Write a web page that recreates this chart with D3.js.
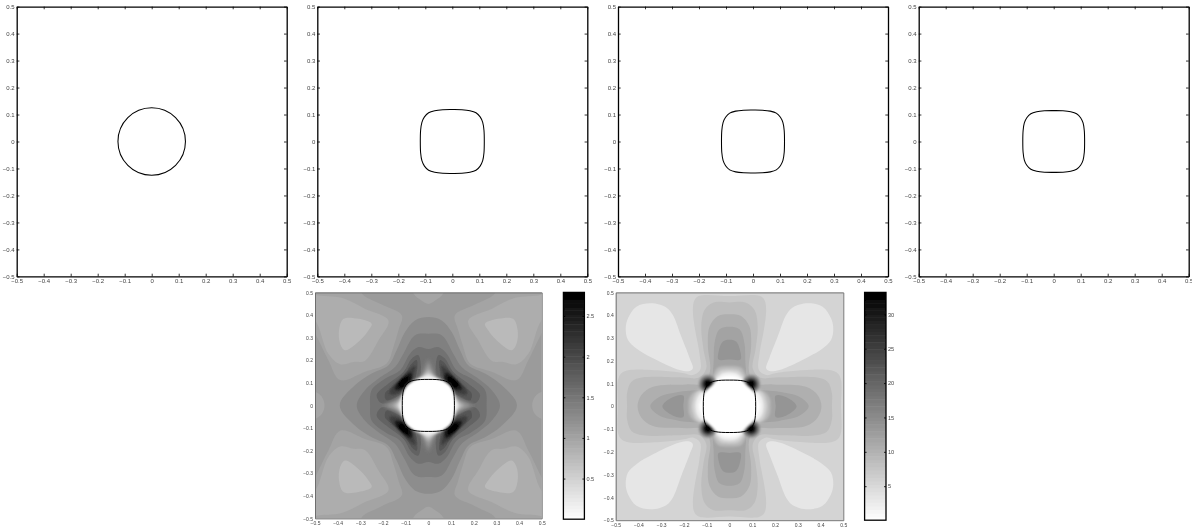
<!DOCTYPE html>
<html>
<head>
<meta charset="utf-8">
<script src="https://cdnjs.cloudflare.com/ajax/libs/d3/7.8.5/d3.min.js"></script>
<style>
  html, body { margin: 0; padding: 0; background: #fff; }
  svg { display: block; }
  text { font-family: "Liberation Sans", sans-serif; fill: #444; }
</style>
</head>
<body>
<div id="chart"></div>
<script>
const axisTicks = [-0.5, -0.4, -0.3, -0.2, -0.1, 0, 0.1, 0.2, 0.3, 0.4, 0.5];

// interface, first quadrant, unit half width; the rest comes from mirroring
const interfaceShape = [[0, 1], [0.3, 0.995], [0.55, 0.965], [0.74, 0.9], [0.87, 0.77], [0.95, 0.6], [0.99, 0.35], [1, 0]];
const circleRadius = 0.125;
const interfaceWidths = [0.1185, 0.1167, 0.1145];
const interfaceWidthLower = 0.115;

const barTicksA = [0.5, 1, 1.5, 2, 2.5];
const barRangeA = [0, 2.79];
const barTicksB = [5, 10, 15, 20, 25, 30];
const barRangeB = [0.05, 33.2];

// contour levels of the left field, light patches then dark levels
const lobeOuterA = [[0.294, 0.496], [0.206, 0.446], [0.117, 0.398], [0.132, 0.332], [0.154, 0.258], [0.184, 0.185], [0.279, 0.149], [0.389, 0.112], [0.441, 0.2], [0.499, 0.317], [0.558, 0.42], [0.558, 0.552], [0.294, 0.552]];
const lobeInnerA = [[0.176, 0.376], [0.279, 0.427], [0.382, 0.476], [0.499, 0.49], [0.56, 0.52], [0.56, 0.42], [0.499, 0.376], [0.441, 0.228], [0.389, 0.182], [0.33, 0.192], [0.279, 0.198], [0.22, 0.288]];
const patchA = [[0.25, 0.361], [0.308, 0.383], [0.374, 0.383], [0.394, 0.332], [0.389, 0.273], [0.367, 0.244], [0.301, 0.288], [0.264, 0.332]];
const topPatchA = [[0, 0.449], [0.03, 0.464], [0.066, 0.496], [0.07, 0.56], [0, 0.56]];
const sidePatchA = [[0.458, 0], [0.47, 0.038], [0.5, 0.06], [0.56, 0.07], [0.56, 0]];
const crossA1 = [[0, 0.391], [0.059, 0.376], [0.103, 0.325], [0.14, 0.244], [0.176, 0.178], [0.25, 0.141], [0.323, 0.09], [0.391, 0]];
const crossA2 = [[0, 0.317], [0.059, 0.31], [0.11, 0.229], [0.147, 0.17], [0.22, 0.119], [0.279, 0.068], [0.316, 0]];
const crossA3 = [[0, 0.25], [0.044, 0.258], [0.081, 0.229], [0.125, 0.156], [0.19, 0.119], [0.25, 0.068], [0.257, 0]];
const darkA1 = [[0.044, 0.222], [0.073, 0.207], [0.11, 0.148], [0.176, 0.097], [0.228, 0.046], [0.206, 0.009], [0.1, 0.04], [0.04, 0.1]];
const darkA2 = [[0.051, 0.2], [0.073, 0.185], [0.1, 0.141], [0.147, 0.09], [0.191, 0.053], [0.184, 0.023], [0.125, 0.046], [0.066, 0.097]];
const darkA3 = [[0.058, 0.175], [0.085, 0.158], [0.125, 0.115], [0.165, 0.075], [0.17, 0.05], [0.13, 0.055], [0.075, 0.105]];
const darkA4 = [[0.076, 0.145], [0.103, 0.132], [0.14, 0.095], [0.148, 0.07], [0.115, 0.07], [0.073, 0.108]];
const darkA5 = [[0.088, 0.128], [0.117, 0.117], [0.135, 0.09], [0.115, 0.078], [0.088, 0.1]];
const tipA1 = [[0, 0.205], [0.022, 0.165], [0.04, 0.125], [0.07, 0.09], [0.12, 0.045], [0.16, 0.022], [0.2, 0]];
const tipA2 = [[0, 0.185], [0.018, 0.15], [0.035, 0.122], [0.07, 0.09], [0.115, 0.045], [0.145, 0.02], [0.18, 0]];
const tipA3 = [[0, 0.16], [0.018, 0.14], [0.035, 0.12], [0.07, 0.09], [0.11, 0.045], [0.13, 0.02], [0.155, 0]];
const tipA4 = [[0, 0.14], [0.025, 0.125], [0.05, 0.112], [0.08, 0.09], [0.105, 0.06], [0.122, 0.025], [0.135, 0]];
const centreA = [[0, 0.124], [0.04, 0.118], [0.075, 0.102], [0.096, 0.086], [0.108, 0.06], [0.116, 0.03], [0.121, 0]];

// contour levels of the right field
const petalB = [[0.161, 0.167], [0.175, 0.211], [0.212, 0.306], [0.249, 0.401], [0.278, 0.434], [0.344, 0.452], [0.409, 0.437], [0.446, 0.386], [0.456, 0.342], [0.446, 0.291], [0.409, 0.254], [0.336, 0.211], [0.219, 0.159], [0.175, 0.155]];
const crossB1 = [[0, 0.484], [0.132, 0.485], [0.154, 0.466], [0.161, 0.423], [0.151, 0.335], [0.132, 0.232], [0.129, 0.159], [0.161, 0.137], [0.2, 0.145], [0.292, 0.156], [0.439, 0.159], [0.475, 0.145], [0.49, 0.115], [0.49, 0]];
const crossB2 = [[0, 0.456], [0.073, 0.455], [0.11, 0.423], [0.124, 0.349], [0.114, 0.247], [0.102, 0.167], [0.132, 0.127], [0.219, 0.127], [0.38, 0.127], [0.431, 0.108], [0.45, 0.057], [0.45, 0]];
const crossB3 = [[0, 0.404], [0.051, 0.396], [0.088, 0.349], [0.095, 0.262], [0.085, 0.159], [0.11, 0.101], [0.19, 0.096], [0.336, 0.086], [0.387, 0.05], [0.404, 0]];
const crossB4 = [[0, 0.349], [0.044, 0.338], [0.066, 0.276], [0.07, 0.189], [0.08, 0.115], [0.11, 0.079], [0.219, 0.064], [0.307, 0.042], [0.348, 0]];
const armB = [[0, 0.292], [0.029, 0.284], [0.048, 0.238], [0.048, 0.205], [0, 0.205]];
const sideB = [[0.203, 0], [0.203, 0.047], [0.25, 0.04], [0.295, 0]];
const glowB1 = [[0, 0.177], [0.05, 0.17], [0.07, 0.14], [0.08, 0.105], [0.11, 0.085], [0.16, 0.06], [0.178, 0.03], [0.18, 0]];
const glowB2 = [[0, 0.163], [0.04, 0.157], [0.06, 0.135], [0.075, 0.105], [0.105, 0.08], [0.145, 0.06], [0.16, 0.03], [0.165, 0]];
const glowB3 = [[0, 0.15], [0.03, 0.145], [0.055, 0.125], [0.075, 0.1], [0.1, 0.075], [0.13, 0.055], [0.145, 0.03], [0.15, 0]];
const spotB = [[0.095, 0.098, 0.04], [0.095, 0.098, 0.031], [0.095, 0.098, 0.023], [0.095, 0.098, 0.016]];
const centreB = [[0, 0.135], [0.04, 0.125], [0.07, 0.097], [0.082, 0.085], [0.097, 0.072], [0.12, 0.04], [0.135, 0]];

const width = 1192, height = 529;
const svg = d3.select("#chart").append("svg").attr("width", width).attr("height", height);

const defs = svg.append("defs");
const blur = (id, amount) => defs.append("filter").attr("id", id)
  .attr("x", "-5%").attr("y", "-5%").attr("width", "110%").attr("height", "110%")
  .append("feGaussianBlur").attr("stdDeviation", amount);
blur("soft", 0.7);
blur("mid", 1.1);
blur("smooth", 1.8);
blur("print", 0.3);

const root = svg.append("g").attr("filter", "url(#print)");

// mirror one quadrant into a closed ring
const mirrorBoth = pts => {
  const q4 = pts.slice().reverse().map(p => [p[0], -p[1]]);
  const q3 = pts.map(p => [-p[0], -p[1]]);
  const q2 = pts.slice().reverse().map(p => [-p[0], p[1]]);
  return [...pts, ...q4.slice(1), ...q3.slice(1), ...q2.slice(1, -1)];
};
const mirrorX = pts => [...pts, ...pts.slice(1, -1).reverse().map(p => [-p[0], p[1]])];
const mirrorY = pts => [...pts, ...pts.slice(1, -1).reverse().map(p => [p[0], -p[1]])];

const makePanel = (left, top, w, h, name, axisOpts) => {
  const x = d3.scaleLinear().domain([-0.5, 0.5]).range([0, w]);
  const y = d3.scaleLinear().domain([-0.5, 0.5]).range([h, 0]);
  const g = root.append("g").attr("transform", `translate(${left}, ${top})`);
  defs.append("clipPath").attr("id", "clip" + name)
    .append("rect").attr("width", w).attr("height", h);
  const area = g.append("g").attr("clip-path", `url(#clip${name})`);
  return { x, y, g, area, w, h, axisOpts };
};

const drawAxes = p => {
  const o = p.axisOpts;
  const fmt = d => d === 0 ? "0" : d3.format(".1f")(d);
  const style = sel => {
    sel.selectAll("path.domain").attr("stroke", o.frame).attr("stroke-width", o.frameWidth);
    sel.selectAll(".tick line").attr("stroke", o.frame).attr("stroke-width", 0.8);
    sel.selectAll("text").style("font-size", o.font + "px").attr("font-family", null).attr("fill", null);
  };
  p.g.append("g").attr("transform", `translate(0, ${p.h})`)
    .call(d3.axisBottom(p.x).tickValues(axisTicks).tickSize(-o.tick).tickSizeOuter(0).tickPadding(o.padding + 0.8).tickFormat(fmt)).call(style);
  p.g.append("g")
    .call(d3.axisLeft(p.y).tickValues(axisTicks).tickSize(-o.tick).tickSizeOuter(0).tickPadding(o.padding).tickFormat(fmt)).call(style);
  p.g.append("g")
    .call(d3.axisTop(p.x).tickValues(axisTicks).tickSize(-o.tick).tickSizeOuter(0).tickFormat("")).call(style);
  p.g.append("g").attr("transform", `translate(${p.w}, 0)`)
    .call(d3.axisRight(p.y).tickValues(axisTicks).tickSize(-o.tick).tickSizeOuter(0).tickFormat("")).call(style);
};

const drawInterface = (p, half, strokeWidth) => {
  const ring = mirrorBoth(interfaceShape.map(d => [d[0] * half, d[1] * half]));
  const line = d3.line().x(d => p.x(d[0])).y(d => p.y(d[1])).curve(d3.curveCatmullRomClosed.alpha(0.5));
  p.g.append("path").attr("d", line(ring)).attr("fill", "none").attr("stroke", "#000").attr("stroke-width", strokeWidth);
};

// kind says which axes the level touches
const fillLevel = (layer, p, pts, color, kind) => {
  const line = d3.line().x(d => p.x(d[0])).y(d => p.y(d[1])).curve(d3.curveCatmullRomClosed.alpha(0.5));
  const add = ring => layer.append("path").attr("d", line(ring)).attr("fill", color);
  if (kind === "both") add(mirrorBoth(pts));
  if (kind === "x") [1, -1].forEach(s => add(mirrorX(pts).map(d => [d[0], d[1] * s])));
  if (kind === "y") [1, -1].forEach(s => add(mirrorY(pts).map(d => [d[0] * s, d[1]])));
  if (kind === "corner") [[1, 1], [1, -1], [-1, 1], [-1, -1]].forEach(s => add(pts.map(d => [d[0] * s[0], d[1] * s[1]])));
};

const drawColorbar = (left, top, w, h, range, ticks) => {
  const v = d3.scaleLinear().domain(range).range([h, 0]);
  const grey = d3.scaleLinear().domain(range).range(["#ffffff", "#000000"]);
  const g = root.append("g").attr("transform", `translate(${left}, ${top})`);
  const bandCount = 64;
  const step = (range[1] - range[0]) / bandCount;
  const bands = d3.range(bandCount).map(i => range[0] + step * i);
  g.append("g").selectAll("rect").data(bands).join("rect")
    .attr("x", 0).attr("width", w)
    .attr("y", d => v(d + step)).attr("height", d => v(d) - v(d + step) + 0.5)
    .attr("fill", d => grey(d + step / 2));
  g.append("rect").attr("width", w).attr("height", h).attr("fill", "none").attr("stroke", "#000").attr("stroke-width", 1.3);
  const style = sel => {
    sel.select("path.domain").remove();
    sel.selectAll(".tick line").attr("stroke", "#000").attr("stroke-width", 0.8);
    sel.selectAll("text").style("font-size", "5.6px").attr("font-family", null).attr("fill", null);
  };
  g.append("g").attr("transform", `translate(${w}, 0)`)
    .call(d3.axisRight(v).tickValues(ticks).tickSize(-2).tickSizeOuter(0).tickPadding(2).tickFormat(d3.format("~g"))).call(style);
  g.append("g").call(d3.axisLeft(v).tickValues(ticks).tickSize(-2).tickSizeOuter(0).tickFormat("")).call(style);
};

const topOpts = { frame: "#000", frameWidth: 1.3, font: 6, tick: 2.7, padding: 2 };
const lowOpts = { frame: "#666", frameWidth: 0.9, font: 5, tick: 0, padding: 2 };

// top row
const panelLefts = [16.7, 317.3, 618, 918.7];
panelLefts.forEach((left, i) => {
  const p = makePanel(left, 6.6, 270, 269.8, "T" + i, topOpts);
  drawAxes(p);
  if (i === 0) {
    p.g.append("circle").attr("cx", p.x(0)).attr("cy", p.y(0))
      .attr("r", p.x(circleRadius) - p.x(0))
      .attr("fill", "none").attr("stroke", "#000").attr("stroke-width", 1.05);
  } else {
    drawInterface(p, interfaceWidths[i - 1], 1.05);
  }
});

// lower left field
const pa = makePanel(315, 292.4, 226.7, 226, "A", lowOpts);
const fa = pa.area.append("g").attr("filter", "url(#soft)");
fa.append("rect").attr("x", -3).attr("y", -3).attr("width", pa.w + 6).attr("height", pa.h + 6).attr("fill", "#9b9b9b");
[[topPatchA, "#a5a5a5", "x"], [sidePatchA, "#a5a5a5", "y"],
 [lobeOuterA, "#a4a4a4", "corner"], [lobeInnerA, "#adadad", "corner"], [patchA, "#bababa", "corner"],
 [crossA1, "#8d8d8d", "both"], [crossA2, "#808080", "both"], [crossA3, "#727272", "both"],
 [darkA1, "#636363", "corner"], [darkA2, "#545454", "corner"]
].forEach(d => fillLevel(fa, pa, d[0], d[1], d[2]));
// the steep levels round the interface blend into each other
const ca = pa.area.append("g").attr("filter", "url(#smooth)");
[[tipA1, "#7e7e7e", "both"], [tipA2, "#949494", "both"], [tipA3, "#b4b4b4", "both"], [tipA4, "#e2e2e2", "both"]
].forEach(d => fillLevel(ca, pa, d[0], d[1], d[2]));
const da = pa.area.append("g").attr("filter", "url(#mid)");
[[darkA3, "#3e3e3e", "corner"], [darkA4, "#141414", "corner"], [darkA5, "#000000", "corner"]
].forEach(d => fillLevel(da, pa, d[0], d[1], d[2]));
const wa = pa.area.append("g").attr("filter", "url(#smooth)");
fillLevel(wa, pa, centreA, "#ffffff", "both");
drawAxes(pa);
drawInterface(pa, interfaceWidthLower, 1);
drawColorbar(563.4, 292.4, 21, 226.8, barRangeA, barTicksA);

// lower right field
const pb = makePanel(615.7, 292.4, 227.6, 227.8, "B", lowOpts);
const fb = pb.area.append("g").attr("filter", "url(#soft)");
fb.append("rect").attr("x", -3).attr("y", -3).attr("width", pb.w + 6).attr("height", pb.h + 6).attr("fill", "#d4d4d4");
[[petalB, "#e6e6e6", "corner"],
 [crossB1, "#c8c8c8", "both"], [crossB2, "#bdbdbd", "both"], [crossB3, "#afafaf", "both"], [crossB4, "#a3a3a3", "both"],
 [armB, "#959595", "x"], [sideB, "#959595", "y"]
].forEach(d => fillLevel(fb, pb, d[0], d[1], d[2]));
const cb = pb.area.append("g").attr("filter", "url(#mid)");
[[glowB1, "#b9b9b9", "both"], [glowB2, "#d2d2d2", "both"], [glowB3, "#f0f0f0", "both"]
].forEach(d => fillLevel(cb, pb, d[0], d[1], d[2]));
const spotColors = ["#8a8a8a", "#5c5c5c", "#262626", "#000000"];
spotB.forEach((s, i) => {
  [[1, 1], [1, -1], [-1, 1], [-1, -1]].forEach(m => {
    cb.append("circle").attr("cx", pb.x(s[0] * m[0])).attr("cy", pb.y(s[1] * m[1]))
      .attr("r", pb.x(s[2]) - pb.x(0)).attr("fill", spotColors[i]);
  });
});
fillLevel(cb, pb, centreB, "#ffffff", "both");
drawAxes(pb);
drawInterface(pb, interfaceWidthLower, 1);
drawColorbar(864.6, 292.4, 21.4, 227.8, barRangeB, barTicksB);
</script>
</body>
</html>
